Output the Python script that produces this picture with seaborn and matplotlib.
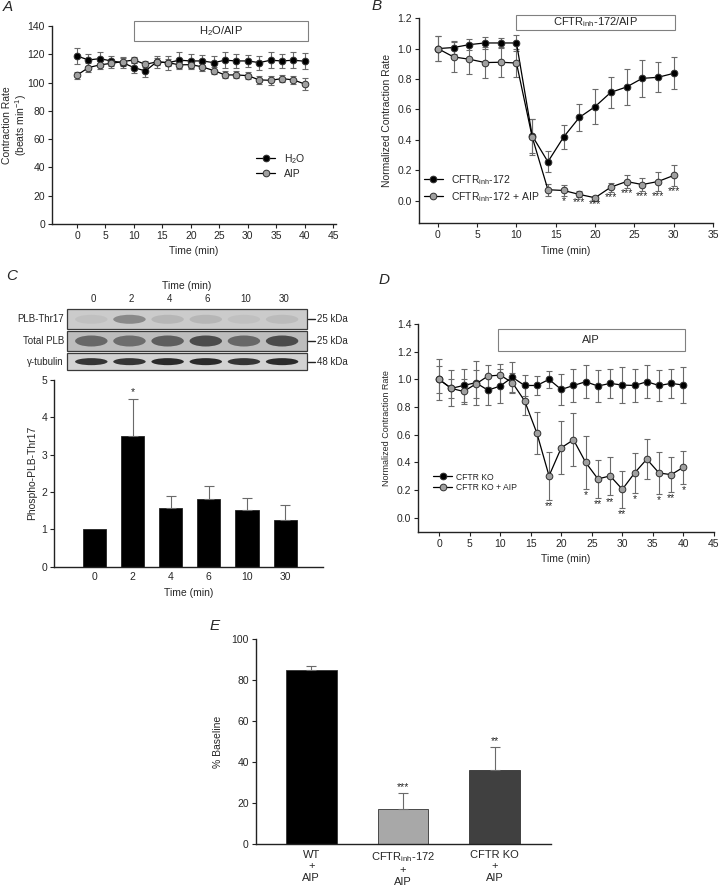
import matplotlib
matplotlib.use("Agg")
import matplotlib.pyplot as plt
from matplotlib.patches import Rectangle, Ellipse
import seaborn as sns

W, H = 720, 886

# ── Panel A: contraction rate, H2O vs AIP ──
A_TIME = list(range(0, 41, 2))
A_H2O = [118.8, 116.0, 116.9, 115.3, 114.1, 110.6, 108.2, 114.6, 114.1, 115.8, 115.3,
         115.3, 114.1, 115.8, 115.3, 115.3, 114.1, 115.8, 115.3, 115.8, 115.1]
A_H2O_SEM = [5.5, 4.5, 4.5, 3.5, 3.5, 3.5, 4.5, 4.5, 5.0, 5.5, 5.0,
             4.5, 5.0, 5.5, 5.0, 4.5, 5.0, 5.5, 5.0, 5.5, 5.5]
A_AIP = [105.2, 110.6, 112.5, 113.6, 114.8, 116.0, 112.9, 114.6, 114.1, 112.5, 112.7,
         111.1, 108.5, 105.4, 105.4, 104.9, 101.9, 101.6, 102.8, 101.9, 99.0]
A_AIP_SEM = [2.5, 3.0, 3.0, 3.0, 3.0, 2.0, 2.0, 2.5, 2.5, 3.0, 3.0,
             3.0, 2.5, 2.5, 2.5, 2.5, 3.0, 3.0, 2.5, 3.0, 4.0]

# ── Panel B: CFTRinh-172 vs CFTRinh-172 + AIP ──
B_TIME = list(range(0, 31, 2))
B_INH = [1.0, 1.007, 1.026, 1.037, 1.037, 1.037, 0.426, 0.255, 0.418, 0.547, 0.618,
         0.712, 0.747, 0.804, 0.811, 0.837]
B_INH_SEM = [0.08, 0.04, 0.035, 0.04, 0.035, 0.05, 0.11, 0.07, 0.08, 0.09, 0.115,
             0.1, 0.12, 0.12, 0.1, 0.105]
B_INH_AIP = [1.0, 0.945, 0.93, 0.908, 0.91, 0.905, 0.418, 0.071, 0.066, 0.04, 0.018,
             0.088, 0.125, 0.105, 0.125, 0.165]
B_INH_AIP_SEM = [0.08, 0.1, 0.1, 0.1, 0.1, 0.09, 0.12, 0.04, 0.035, 0.02, 0.01,
                 0.03, 0.045, 0.045, 0.06, 0.07]
B_MARKS = ["", "", "", "", "", "", "", "", "*", "***", "***", "***", "***", "***", "***", "***"]

# ── Panel C: western blot + phospho-PLB quantification ──
C_TIME_LABELS = ["0", "2", "4", "6", "10", "30"]
C_PHOSPHO = [1.0, 3.5, 1.57, 1.8, 1.53, 1.24]
C_SEM = [0.0, 1.0, 0.33, 0.35, 0.31, 0.42]
C_MARKS = ["", "*", "", "", "", ""]
BLOT_ROWS = ["PLB-Thr17", "Total PLB", "γ-tubulin"]
BLOT_KDA = ["25 kDa", "25 kDa", "48 kDa"]
BLOT_THR17 = [0.05, 0.32, 0.1, 0.1, 0.05, 0.08]
BLOT_TOTAL = [0.45, 0.42, 0.5, 0.6, 0.45, 0.6]
BLOT_TUBULIN = [0.75, 0.75, 0.8, 0.8, 0.75, 0.8]

# ── Panel D: CFTR KO vs CFTR KO + AIP ──
D_TIME = list(range(0, 41, 2))
D_KO = [1.0, 0.935, 0.956, 0.976, 0.922, 0.952, 1.015, 0.956, 0.956, 1.0, 0.927,
        0.956, 0.983, 0.952, 0.971, 0.959, 0.956, 0.983, 0.956, 0.971, 0.959]
D_KO_SEM = [0.15, 0.13, 0.12, 0.16, 0.11, 0.12, 0.11, 0.075, 0.07, 0.06, 0.11,
            0.12, 0.12, 0.115, 0.106, 0.13, 0.12, 0.12, 0.11, 0.106, 0.13]
D_KO_AIP = [1.0, 0.935, 0.913, 0.966, 1.024, 1.031, 0.976, 0.845, 0.613, 0.303, 0.506,
            0.564, 0.4, 0.281, 0.303, 0.206, 0.324, 0.424, 0.324, 0.312, 0.366]
D_KO_AIP_SEM = [0.1, 0.07, 0.09, 0.1, 0.08, 0.08, 0.07, 0.1, 0.155, 0.175, 0.19,
                0.19, 0.19, 0.135, 0.14, 0.135, 0.145, 0.145, 0.15, 0.125, 0.12]
D_MARKS = ["", "", "", "", "", "", "", "", "", "**", "", "", "*", "**", "**", "**",
           "*", "", "*", "**", "*"]

# ── Panel E: % baseline ──
E_GROUPS = ["WT\n+\nAIP", "CFTR$_{\\mathrm{inh}}$-172\n+\nAIP", "CFTR KO\n+\nAIP"]
E_VALUES = [85.2, 17.2, 36.2]
E_SEM = [2.0, 8.0, 11.4]
E_MARKS = ["", "***", "**"]
E_COLORS = ["#000000", "#a8a8a8", "#404040"]

ERR = "#6a6a6a"
FS = 7.5
STAR_FS = 7.5


def px_axes(fig, left, top, right, bottom):
    return fig.add_axes([left / W, 1 - bottom / H, (right - left) / W, (bottom - top) / H])


def style(ax):
    sns.despine(ax=ax)
    for s in ("left", "bottom"):
        ax.spines[s].set_linewidth(1.0)
        ax.spines[s].set_color("#222222")
    ax.tick_params(length=3, width=0.8, labelsize=FS, pad=2, color="#222222")


def time_course(ax, t, series):
    for vals, sem, face, label in series:
        ax.errorbar(t, vals, yerr=sem, fmt="none", ecolor=ERR, elinewidth=0.8,
                    capsize=2.4, capthick=0.8, zorder=2)
        sns.lineplot(x=t, y=vals, ax=ax, color="black", linewidth=0.9, marker="o",
                     markersize=4.8, markerfacecolor=face, markeredgecolor="#303030",
                     markeredgewidth=0.7, label=label, zorder=3)


def stars_below(ax, t, vals, sems, marks, pad, size=STAR_FS):
    for x, m, e, s in zip(t, vals, sems, marks):
        if s:
            ax.text(x, m - e - pad, s, ha="center", va="top", fontsize=size)


def box(ax, x0, x1, y0, y1, text):
    ax.add_patch(Rectangle((x0, y0), x1 - x0, y1 - y0, facecolor="white",
                           edgecolor="#808080", lw=0.8, clip_on=False, zorder=5))
    ax.text((x0 + x1) / 2, (y0 + y1) / 2, text, ha="center", va="center",
            fontsize=FS + 0.5, zorder=6)


sns.set_theme(style="ticks")
plt.rcParams["font.family"] = ["Liberation Sans", "DejaVu Sans"]
plt.rcParams["mathtext.fontset"] = "custom"
plt.rcParams["mathtext.rm"] = "Liberation Sans"
plt.rcParams["mathtext.it"] = "Liberation Sans:italic"

fig = plt.figure(figsize=(W / 100, H / 100), dpi=100)

# ---------------- A ----------------
axA = px_axes(fig, 52, 26, 336, 224)
time_course(axA, A_TIME, [(A_H2O, A_H2O_SEM, "black", "H$_2$O"),
                          (A_AIP, A_AIP_SEM, "#a0a0a0", "AIP")])
axA.set_xlim(-4.4, 45.5)
axA.set_ylim(0, 140)
axA.set_xticks(range(0, 46, 5))
axA.set_yticks(range(0, 141, 20))
axA.set_xlabel("Time (min)", fontsize=FS)
axA.set_ylabel("Contraction Rate\n(beats min$^{-1}$)", fontsize=FS, linespacing=1.1)
axA.yaxis.set_label_coords(-0.08, 0.5)
style(axA)
box(axA, 10, 40.6, 129.4, 143.5, "H$_2$O/AIP")
axA.legend(loc="upper left", bbox_to_anchor=(0.72, 0.365), frameon=False, fontsize=FS,
           handlelength=1.8, handletextpad=0.8, labelspacing=0.3, borderpad=0,
           borderaxespad=0)

# ---------------- B ----------------
axB = px_axes(fig, 419, 18.2, 713, 223.3)
time_course(axB, B_TIME, [(B_INH, B_INH_SEM, "black", "CFTR$_{\\mathrm{inh}}$-172"),
                          (B_INH_AIP, B_INH_AIP_SEM, "#a0a0a0",
                           "CFTR$_{\\mathrm{inh}}$-172 + AIP")])
stars_below(axB, B_TIME, B_INH_AIP, B_INH_AIP_SEM, B_MARKS, 0.0)
axB.set_xlim(-2.4, 35)
axB.set_ylim(-0.15, 1.2)
axB.set_xticks(range(0, 36, 5))
axB.set_yticks([0, 0.2, 0.4, 0.6, 0.8, 1.0, 1.2])
axB.set_yticklabels([f"{v:.1f}" for v in axB.get_yticks()])
axB.set_xlabel("Time (min)", fontsize=FS)
axB.set_ylabel("Normalized Contraction Rate", fontsize=FS, labelpad=4)
style(axB)
box(axB, 10, 30.2, 1.122, 1.221, "CFTR$_{\\mathrm{inh}}$-172/AIP")
axB.legend(loc="upper left", bbox_to_anchor=(0.017, 0.245), frameon=False, fontsize=FS,
           handlelength=1.8, handletextpad=0.8, labelspacing=0.3, borderpad=0,
           borderaxespad=0)

# ---------------- C blot ----------------
axBlot = px_axes(fig, 54.3, 280, 323.3, 375)
axBlot.set_xlim(-1.05, 6.0)
axBlot.set_ylim(375, 280)
axBlot.axis("off")
axBlot.text(2.43, 285.7, "Time (min)", ha="center", va="center", fontsize=FS)
for i, lab in enumerate(C_TIME_LABELS):
    axBlot.text(i - 0.04, 299.3, lab, ha="center", va="center", fontsize=FS - 0.5)
strips = [(309.3, 329.3, "#cbcbcb", BLOT_THR17, 9),
          (331.0, 351.0, "#bdbdbd", BLOT_TOTAL, 11),
          (353.3, 370.0, "#d2d2d2", BLOT_TUBULIN, 7)]
for (y0, y1, bg, inten, bh), row, kda in zip(strips, BLOT_ROWS, BLOT_KDA):
    axBlot.add_patch(Rectangle((-0.72, y0), 6.29, y1 - y0, facecolor=bg,
                               edgecolor="#3a3a3a", lw=0.9))
    for i, a in enumerate(inten):
        axBlot.add_patch(Ellipse((i - 0.08, (y0 + y1) / 2), 0.85, bh,
                                 facecolor="black", alpha=a, lw=0))
    axBlot.text(-0.8, (y0 + y1) / 2, row, ha="right", va="center", fontsize=FS - 0.5)
    axBlot.plot([5.6, 5.78], [(y0 + y1) / 2] * 2, color="#222222", lw=1.0)
    axBlot.text(5.84, (y0 + y1) / 2, kda, ha="left", va="center", fontsize=FS - 0.5)

# ---------------- C bars ----------------
axC = px_axes(fig, 54.3, 380, 323.3, 566.7)
sns.barplot(x=C_TIME_LABELS, y=C_PHOSPHO, color="black", saturation=1, width=0.61,
            edgecolor="#222222", linewidth=0.6, ax=axC)
idx = [i for i, e in enumerate(C_SEM) if e > 0]
axC.errorbar(idx, [C_PHOSPHO[i] for i in idx], yerr=[[0] * len(idx), [C_SEM[i] for i in idx]],
             fmt="none", ecolor=ERR, elinewidth=0.8, capsize=3.5, capthick=0.8)
for i, s in enumerate(C_MARKS):
    if s:
        axC.text(i, C_PHOSPHO[i] + C_SEM[i] + 0.03, s, ha="center", va="bottom",
                 fontsize=STAR_FS)
axC.set_xlim(-1.05, 6.0)
axC.set_ylim(0, 5)
axC.set_yticks(range(0, 6))
axC.set_xlabel("Time (min)", fontsize=FS)
axC.set_ylabel("Phospho-PLB-Thr17", fontsize=FS)
axC.yaxis.set_label_coords(-0.065, 0.5)
style(axC)
axC.tick_params(axis="x", length=0, pad=4)

# ---------------- D ----------------
axD = px_axes(fig, 418.3, 324, 714, 531.7)
time_course(axD, D_TIME, [(D_KO, D_KO_SEM, "black", "CFTR KO"),
                          (D_KO_AIP, D_KO_AIP_SEM, "#a0a0a0", "CFTR KO + AIP")])
stars_below(axD, D_TIME, D_KO_AIP, D_KO_AIP_SEM, D_MARKS, 0.01)
axD.set_xlim(-3.4, 45)
axD.set_ylim(-0.1, 1.4)
axD.set_xticks(range(0, 46, 5))
axD.set_yticks([0, 0.2, 0.4, 0.6, 0.8, 1.0, 1.2, 1.4])
axD.set_yticklabels([f"{v:.1f}" for v in axD.get_yticks()])
axD.set_xlabel("Time (min)", fontsize=FS)
axD.set_ylabel("Normalized Contraction Rate", fontsize=6.5, labelpad=4)
style(axD)
box(axD, 9.6, 40.2, 1.208, 1.365, "AIP")
axD.legend(loc="upper left", bbox_to_anchor=(0.05, 0.285), frameon=False, fontsize=6.2,
           handlelength=2.2, handletextpad=0.5, labelspacing=0.2, borderpad=0,
           borderaxespad=0)

# ---------------- E ----------------
axE = px_axes(fig, 255.7, 639.3, 550.7, 844.3)
sns.barplot(x=E_GROUPS, y=E_VALUES, hue=E_GROUPS, palette=E_COLORS, legend=False,
            saturation=1, width=0.555, edgecolor="#333333", linewidth=0.6, ax=axE)
axE.errorbar(range(3), E_VALUES, yerr=[[0, 0, 0], E_SEM], fmt="none", ecolor=ERR,
             elinewidth=0.8, capsize=3.5, capthick=0.8)
for i, s in enumerate(E_MARKS):
    if s:
        axE.text(i, E_VALUES[i] + E_SEM[i] + 0.5, s, ha="center", va="bottom",
                 fontsize=STAR_FS)
axE.set_xlim(-0.605, 2.61)
axE.set_ylim(0, 100)
axE.set_yticks(range(0, 101, 20))
axE.set_ylabel("% Baseline", fontsize=FS, labelpad=6)
axE.set_xlabel("")
style(axE)
axE.tick_params(axis="x", length=0, pad=4, labelsize=FS + 0.5)

# panel letters
for letter, (x, y) in {"A": (8, 7), "B": (377, 6), "C": (12, 276),
                       "D": (384, 280), "E": (215, 626)}.items():
    fig.text(x / W, 1 - y / H, letter, ha="center", va="center", fontsize=11,
             style="italic")

fig.savefig("out.png", dpi=100)
